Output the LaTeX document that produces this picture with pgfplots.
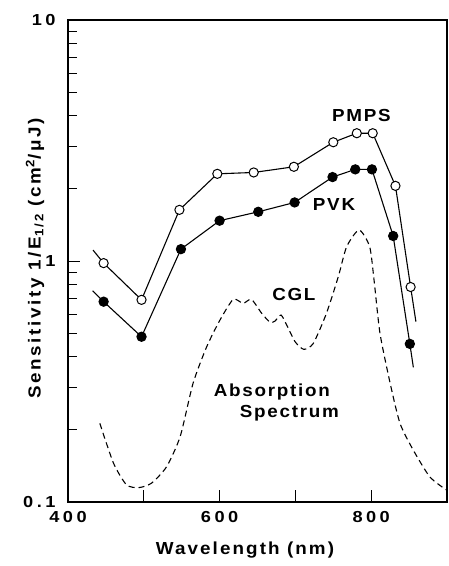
\documentclass[border=0pt]{standalone}
\usepackage{fontspec}
\setmainfont{Liberation Sans}[LetterSpace=10, FakeStretch=1.08]
\newfontfamily\tickfont{Liberation Sans}[LetterSpace=22, FakeStretch=1.14]
\newfontfamily\ylabfont{Liberation Sans}[LetterSpace=15, FakeStretch=1.08]
\newfontfamily\xlabfont{Liberation Sans}[LetterSpace=12, FakeStretch=1.08]
\usepackage{pgfplots}
\pgfplotsset{compat=1.18}
\begin{document}
\begin{tikzpicture}
\begin{axis}[
  at={(0,0)}, anchor=south west,
  scale only axis,
  width=379bp, height=482bp,
  xmin=400, xmax=900,
  ymode=log, ymin=0.1, ymax=10,
  axis line style={line width=1.1pt},
  xtick={400,500,600,700,800},
  xticklabels={400,,600,,800},
  ytick={0.1,1,10},
  yticklabels={0.1,1,10},
  minor ytick={0.2,0.3,0.4,0.5,0.6,0.7,0.8,0.9,2,3,4,5,6,7,8,9},
  tick align=inside,
  xtick pos=bottom, ytick pos=left,
  major tick length=12bp, minor tick length=9bp,
  tick style={line width=1pt, black},
  /pgf/number format/assume math mode=true,
  tick label style={font=\tickfont\bfseries\fontsize{16}{18}\selectfont},
  xticklabel style={yshift=-6bp},
  yticklabel style={xshift=-9bp},
  xlabel={Wavelength (nm)},
  ylabel={Sensitivity 1\,/\,E\textsubscript{1/2} (cm\textsuperscript{2}/μJ)},
  every axis x label/.style={at={(axis description cs:0.467,0)}, anchor=center, yshift=-48bp,
     font=\xlabfont\bfseries\fontsize{17.5}{20}\selectfont},
  every axis y label/.style={at={(axis description cs:0,0.505)}, anchor=center, xshift=-33bp, rotate=90,
     font=\ylabfont\bfseries\fontsize{17.5}{20}\selectfont},
  clip=false,
]
% PMPS (open circles)
\addplot[black, line width=1.1pt, mark=*, mark size=4.6bp,
  mark options={fill=white, line width=1pt, solid},
  mark indices={2,3,4,5,6,7,8,9,10,11,12}] coordinates {
  (433,1.11) (447,0.98) (497,0.69) (547,1.63) (597,2.30) (645,2.33)
  (698,2.46) (750,3.11) (781,3.39) (802,3.39) (832,2.05) (852,0.78) (859,0.56)
};
% PVK (filled circles)
\addplot[black, line width=1.1pt, mark=*, mark size=4.6bp,
  mark options={fill=black, solid},
  mark indices={2,3,4,5,6,7,8,9,10,11,12}] coordinates {
  (432.5,0.753) (447,0.678) (497,0.485) (549,1.12) (600,1.47) (651,1.60)
  (699,1.75) (749,2.23) (779,2.40) (801,2.40) (829,1.27) (851,0.453) (855.6,0.362)
};
% CGL absorption spectrum (dashed)
\addplot[black, line width=1.1pt, dash pattern=on 6bp off 4bp, smooth, tension=0.4] coordinates {
  (442,0.212) (460,0.145) (477,0.118) (493,0.1147) (510,0.1196) (530,0.140)
  (548,0.187) (565,0.311) (583,0.441) (600.5,0.569) (618,0.693) (631,0.667)
  (642,0.693) (655.5,0.607) (666.5,0.557) (673,0.563) (681,0.597) (688.5,0.543)
  (699.5,0.463) (711,0.430) (723.6,0.455) (741,0.607) (756.6,0.861) (767.6,1.146)
  (784,1.345) (798,1.146) (804,0.82) (811.6,0.501) (825,0.311) (838,0.212)
  (855.6,0.164) (877.5,0.127) (899.6,0.112)
};
\node[font=\bfseries\fontsize{17.5}{20}\selectfont] at (axis cs:787,4.03) {PMPS};
\node[font=\bfseries\fontsize{17.5}{20}\selectfont] at (axis cs:751,1.71) {PVK};
\node[font=\bfseries\fontsize{17.5}{20}\selectfont] at (axis cs:698,0.723) {CGL};
\node[font=\bfseries\fontsize{17.5}{20}\selectfont] at (axis cs:669,0.287) {Absorption};
\node[font=\bfseries\fontsize{17.5}{20}\selectfont] at (axis cs:692,0.233) {Spectrum};
\end{axis}
\pgfresetboundingbox
\path (-68bp,-64bp) rectangle (381bp,502bp);
\end{tikzpicture}
\end{document}
